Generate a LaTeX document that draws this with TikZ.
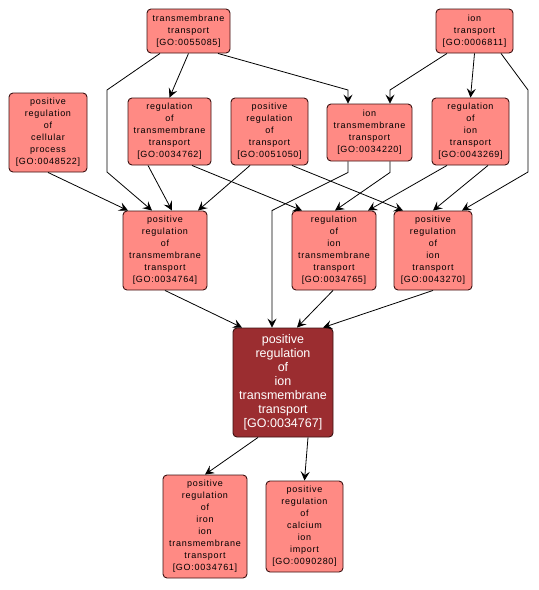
\documentclass[tikz,border=0pt]{standalone}
\usepackage{fontspec}
\setmainfont{Liberation Sans}
\newfontfamily\gofont[LetterSpace=8]{Liberation Sans}
\usepackage{xcolor}
\usetikzlibrary{positioning,arrows.meta}
\definecolor{goterm}{RGB}{255,138,132}
\definecolor{gofocus}{RGB}{155,45,48}
\definecolor{goline}{RGB}{60,18,18}

\tikzset{
  term/.style={draw=goline,fill=goterm,rounded corners=4pt,align=center,inner sep=0pt,
    font=\gofont\fontsize{9}{12}\selectfont,line width=0.9pt},
  focus/.style={term,fill=gofocus,text=white,font=\fontsize{12.5}{14}\selectfont},
  isa/.style={-{Stealth[length=9pt,width=9pt,inset=3.5pt]},line width=0.8pt}
}

\begin{document}
\begin{tikzpicture}[x=1pt,y=-1pt]
  \useasboundingbox (0,0) rectangle (539,590);
  % top row
  \node[term,minimum width=83pt,minimum height=44pt] (n55085) at (188.5,31) {transmembrane\\transport\\{[GO:0055085]}};
  \node[term,minimum width=77pt,minimum height=44pt] (n06811) at (474.5,31) {ion\\transport\\{[GO:0006811]}};
  % second row
  \node[term,minimum width=78pt,minimum height=79pt] (n48522) at (48,132.5) {positive\\regulation\\of\\cellular\\process\\{[GO:0048522]}};
  \node[term,minimum width=83pt,minimum height=67pt] (n34762) at (169.5,131.5) {regulation\\of\\transmembrane\\transport\\{[GO:0034762]}};
  \node[term,minimum width=77pt,minimum height=67pt] (n51050) at (269.5,131.5) {positive\\regulation\\of\\transport\\{[GO:0051050]}};
  \node[term,minimum width=85pt,minimum height=57pt] (n34220) at (369.5,132.5) {ion\\transmembrane\\transport\\{[GO:0034220]}};
  \node[term,minimum width=77pt,minimum height=67pt] (n43269) at (470.5,131.5) {regulation\\of\\ion\\transport\\{[GO:0043269]}};
  % third row
  \node[term,minimum width=84pt,minimum height=79pt] (n34764) at (165,250.5) {positive\\regulation\\of\\transmembrane\\transport\\{[GO:0034764]}};
  \node[term,minimum width=84pt,minimum height=79pt] (n34765) at (334,250.5) {regulation\\of\\ion\\transmembrane\\transport\\{[GO:0034765]}};
  \node[term,minimum width=78pt,minimum height=79pt] (n43270) at (433,250.5) {positive\\regulation\\of\\ion\\transport\\{[GO:0043270]}};
  % focus term
  \node[focus,minimum width=100pt,minimum height=109pt] (n34767) at (283,382.5) {positive\\regulation\\of\\ion\\transmembrane\\transport\\{[GO:0034767]}};
  % children
  \node[term,minimum width=84pt,minimum height=103pt] (n34761) at (205,526.5) {positive\\regulation\\of\\iron\\ion\\transmembrane\\transport\\{[GO:0034761]}};
  \node[term,minimum width=77pt,minimum height=91pt] (n90280) at (304.5,526.5) {positive\\regulation\\of\\calcium\\ion\\import\\{[GO:0090280]}};
  % bend points
  \coordinate (b1) at (107,90);
  \coordinate (b2) at (107,172);
  \coordinate (b3) at (348,90);
  \coordinate (b4) at (390,90);
  \coordinate (b5) at (528,90);
  \coordinate (b6) at (528,172);
  % edges
  \draw[isa] (n55085.south) -- (n34762.north);
  \draw[isa] ([xshift=-28.5pt]n55085.south) -- (b1) -- (b2) -- ([xshift=-13pt]n34764.north);
  \draw[isa] ([xshift=29.5pt]n55085.south) -- (b3) -- (b3 |- n34220.north);
  \draw[isa] ([xshift=-27.5pt]n06811.south) -- (b4) -- (b4 |- n34220.north);
  \draw[isa] (n06811.south) -- (n43269.north);
  \draw[isa] ([xshift=26.5pt]n06811.south) -- (b5) -- (b6) -- ([xshift=29pt]n43270.north);
  \draw[isa] (n48522.south) -- ([xshift=-37pt]n34764.north);
  \draw[isa] ([xshift=-21.5pt]n34762.south) -- ([xshift=7pt]n34764.north);
  \draw[isa] ([xshift=-19.5pt]n51050.south) -- ([xshift=33pt]n34764.north);
  \draw[isa] ([xshift=22.5pt]n34762.south) -- ([xshift=-32pt]n34765.north);
  \draw[isa] ([xshift=22.5pt]n51050.south) -- ([xshift=-30pt]n43270.north);
  \draw[isa] ([xshift=-21.5pt]n34220.south) -- ++(0,11) -- ([xshift=-11pt]n34767.north |- n34765.north) -- ([xshift=-11pt]n34767.north);
  \draw[isa] ([xshift=20.5pt]n34220.south) -- ++(0,11) -- ([xshift=1pt]n34765.north);
  \draw[isa] ([xshift=-23.5pt]n43269.south) -- ([xshift=34pt]n34765.north);
  \draw[isa] ([xshift=17.5pt]n43269.south) -- (n43270.north);
  \draw[isa] (n34764.south) -- ([xshift=-41pt]n34767.north);
  \draw[isa] ([xshift=-1pt]n34765.south) -- ([xshift=14pt]n34767.north);
  \draw[isa] (n43270.south) -- ([xshift=40pt]n34767.north);
  \draw[isa] ([xshift=-25pt]n34767.south) -- (n34761.north);
  \draw[isa] ([xshift=25pt]n34767.south) -- (n90280.north);
\end{tikzpicture}
\end{document}
